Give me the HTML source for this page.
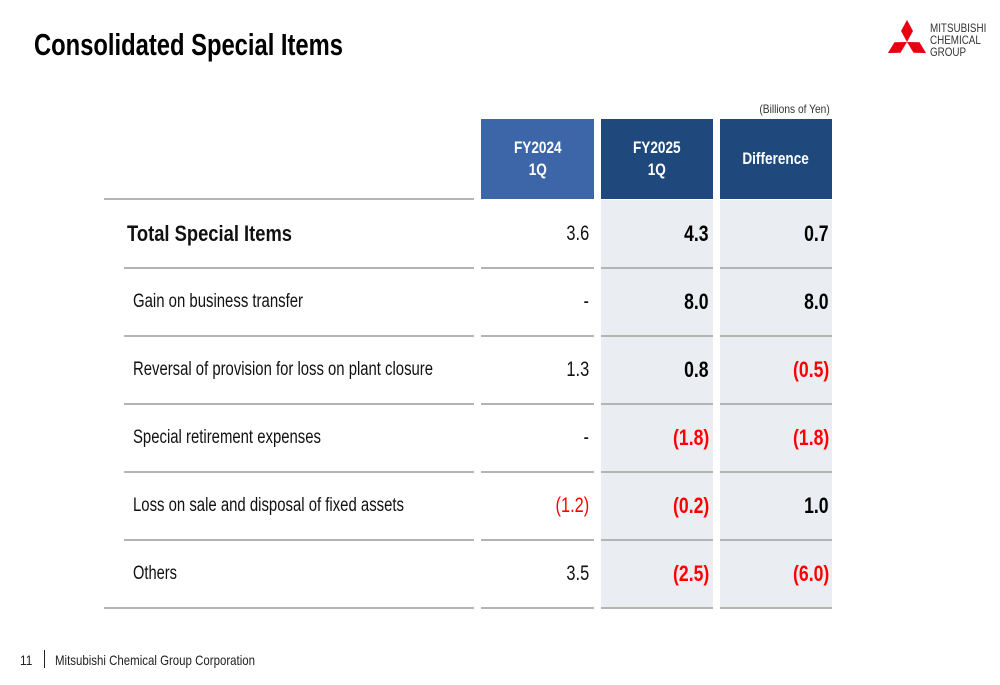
<!DOCTYPE html>
<html><head><meta charset="utf-8">
<style>
body{margin:0;width:1000px;height:685px;background:#fff;position:relative;overflow:hidden;font-family:"Liberation Sans",sans-serif;}
.a{position:absolute;}
.t{position:absolute;white-space:nowrap;transform-origin:left center;}
.r{position:absolute;white-space:nowrap;transform-origin:right center;text-align:right;}
.hd{position:absolute;top:119px;height:80px;color:#fff;font-weight:bold;display:flex;align-items:center;justify-content:center;text-align:center;}
.hd span{display:inline-block;transform:scaleX(0.8);font-size:17px;line-height:22px;}
.line{position:absolute;height:2px;background:#b4b4b4;}
.gray{position:absolute;top:200px;height:408px;background:#eaeef2;}
.red{color:#ff0000;}
</style></head><body>
<div class="t" data-w="309" style="left:34px;top:27px;font-size:31px;font-weight:bold;color:#000;line-height:36px;">Consolidated Special Items</div>

<svg class="a" style="left:0;top:0" width="1000" height="70">
<g fill="#e60012">
<polygon points="907,20 913,31 907,42 901,31"/>
<polygon points="907,20 913,31 907,42 901,31" transform="rotate(120 907 42)"/>
<polygon points="907,20 913,31 907,42 901,31" transform="rotate(240 907 42)"/>
</g>
</svg>
<div class="a" style="left:930px;top:22px;font-size:12px;line-height:12px;color:#333;transform:scaleX(0.82);transform-origin:left;">MITSUBISHI<br>CHEMICAL<br>GROUP</div>

<div class="r" style="right:170px;top:102px;font-size:12px;color:#333;transform:scaleX(0.85);">(Billions of Yen)</div>

<div class="hd" style="left:481px;width:113px;background:#3d66a8;"><span>FY2024<br>1Q</span></div>
<div class="hd" style="left:601px;width:112px;background:#1f487c;"><span>FY2025<br>1Q</span></div>
<div class="hd" style="left:720px;width:112px;background:#1f487c;"><span>Difference</span></div>

<div class="gray" style="left:601px;width:112px;"></div>
<div class="gray" style="left:720px;width:112px;"></div>

<div id="rows"></div>

<div class="a" style="left:20px;top:652px;font-size:14px;color:#222;transform:scaleX(0.85);transform-origin:left;">11</div>
<div class="a" style="left:44px;top:650px;width:1px;height:18px;background:#222;"></div>
<div class="t" data-w="200" style="left:55px;top:652px;font-size:14px;color:#222;">Mitsubishi Chemical Group Corporation</div>

<script>
const labels=["Total Special Items","Gain on business transfer","Reversal of provision for loss on plant closure","Special retirement expenses","Loss on sale and disposal of fixed assets","Others"];
const labelWidths=[165,170,300,188,271,44];
const fy2024=["3.6","-","1.3","-","(1.2)","3.5"];
const fy2025=["4.3","8.0","0.8","(1.8)","(0.2)","(2.5)"];
const diff=["0.7","8.0","(0.5)","(1.8)","1.0","(6.0)"];
const rows=document.getElementById('rows');
const top0=200,rh=68;
function mk(cls,txt,style){const d=document.createElement('div');d.className=cls;d.textContent=txt;d.style.cssText=style;rows.appendChild(d);return d;}
labels.forEach((lab,i)=>{
  const y=top0+i*rh;
  const cy=y+rh/2;
  const l=mk('t',lab,`left:${i==0?127:133}px;top:${cy-13}px;font-size:${i==0?22:19}px;line-height:26px;font-weight:${i==0?'bold':'normal'};color:#111;`);
  
  
  l.dataset.w=labelWidths[i];
  const neg=s=>s.startsWith('(');
  const a=mk('r',fy2024[i],`right:${1000-589}px;top:${cy-13}px;font-size:21px;line-height:26px;color:${neg(fy2024[i])?'#ff0000':'#111'};transform:scaleX(0.78);`);
  
  
  const b=mk('r',fy2025[i],`right:${1000-709}px;top:${cy-13}px;font-size:22px;line-height:26px;font-weight:bold;color:${neg(fy2025[i])?'#ff0000':'#000'};transform:scaleX(0.8);`);
  
  
  const c=mk('r',diff[i],`right:${1000-829}px;top:${cy-13}px;font-size:22px;line-height:26px;font-weight:bold;color:${neg(diff[i])?'#ff0000':'#000'};transform:scaleX(0.8);`);
  
  
  const yb=y+rh-1;
  const last=i==labels.length-1;
  const segs=[[last?104:124,474],[481,594],[601,713],[720,832]];
  segs.forEach(s=>{const ln=mk('line','',`left:${s[0]}px;width:${s[1]-s[0]}px;top:${yb}px;`);
    
    });
});
const tl=mk('line','','left:104px;width:370px;top:198px;');


document.querySelectorAll('[data-w]').forEach(el=>{const w=el.getBoundingClientRect().width;const t=+el.dataset.w;el.style.transform=`scaleX(${t/w})`;});
</script>
</body></html>
